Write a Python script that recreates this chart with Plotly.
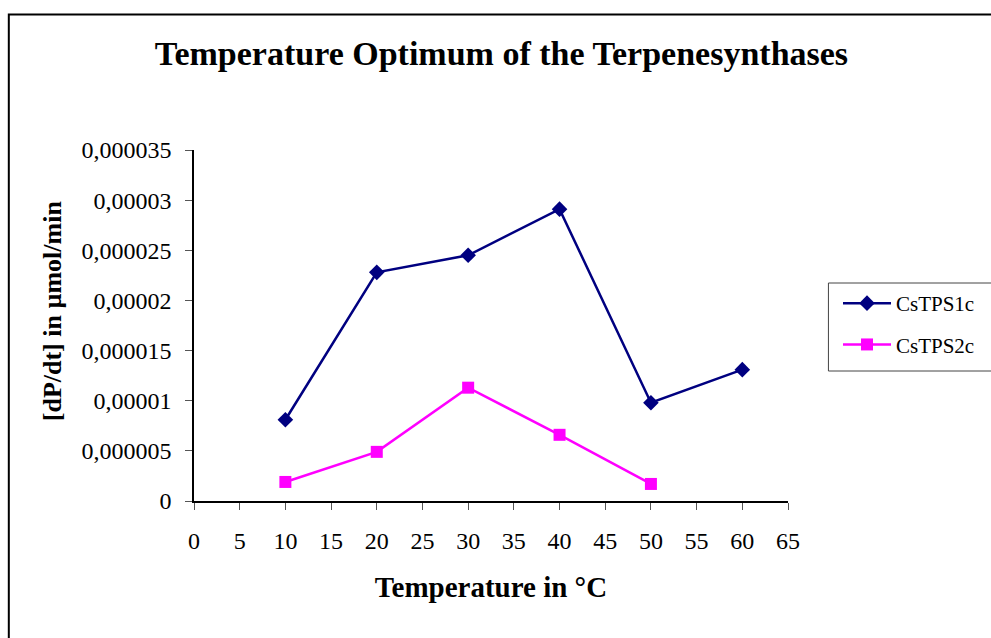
import plotly.graph_objects as go

# Reaction temperature (°C)
temps_1c = [10, 20, 30, 40, 50, 60]
temps_2c = [10, 20, 30, 40, 50]

# Product formation rate [dP/dt] in µmol/min
rate_cstps1c = [0.0000081, 0.0000228, 0.0000245, 0.0000291, 0.0000098, 0.0000131]
rate_cstps2c = [0.0000019, 0.0000049, 0.0000113, 0.0000066, 0.0000017]

SERIF = "Liberation Serif, Times New Roman, serif"

fig = go.Figure()
fig.add_trace(go.Scatter(
    x=temps_1c, y=rate_cstps1c, name="CsTPS1c", mode="lines+markers",
    legendgroup="a",
    line=dict(color="#000080", width=2.5),
    marker=dict(symbol="diamond", size=12, color="#000080"),
))
fig.add_trace(go.Scatter(
    x=temps_2c, y=rate_cstps2c, name="CsTPS2c", mode="lines+markers",
    legendgroup="b",
    line=dict(color="#FF00FF", width=2.5),
    marker=dict(symbol="square", size=12, color="#FF00FF"),
))

W, H = 991, 638
L, R, T, B = 194, 202, 150, 137
pw, ph = W - L - R, H - T - B


def px_x(x):
    return (x - L) / pw


def px_y(y):
    return (H - B - y) / ph


fig.update_layout(
    width=W, height=H,
    margin=dict(l=L, r=R, t=T, b=B),
    paper_bgcolor="white", plot_bgcolor="white",
    separators=",.",
    font=dict(family=SERIF, size=20, color="black"),
    title=dict(
        text="<b>Temperature Optimum of the Terpenesynthases</b>",
        font=dict(family=SERIF, size=34, color="black"),
        x=px_x(502), xref="paper", xanchor="center",
        y=1 - 53 / H, yref="container", yanchor="middle",
    ),
    xaxis=dict(
        range=[0, 65], dtick=5, tick0=0,
        showgrid=False, zeroline=False,
        showline=True, linecolor="black", linewidth=1.5,
        ticks="outside", ticklen=7, tickcolor="#555", tickwidth=1,
        ticklabelstandoff=10,
        tickfont=dict(family=SERIF, size=24),
        title=dict(text="<b>Temperature in °C</b>",
                   font=dict(family=SERIF, size=29), standoff=24),
    ),
    yaxis=dict(
        range=[0, 0.000035], dtick=0.000005, tick0=0,
        tickformat=".6~f",
        showgrid=False, zeroline=False,
        showline=True, linecolor="black", linewidth=1.5,
        ticks="outside", ticklen=7, tickcolor="#555", tickwidth=1,
        ticklabelstandoff=9,
        tickfont=dict(family=SERIF, size=24),
    ),
    legend=dict(
        x=px_x(838), y=px_y(283), xanchor="left", yanchor="top",
        bgcolor="rgba(0,0,0,0)", borderwidth=0,
        font=dict(family=SERIF, size=21),
        traceorder="grouped", tracegroupgap=11,
        itemwidth=48,
    ),
    annotations=[
        dict(text="<b>[dP/dt] in µmol/min</b>", textangle=-90,
             xref="paper", yref="paper", x=px_x(52), y=px_y(311),
             xanchor="center", yanchor="middle", showarrow=False,
             font=dict(family=SERIF, size=26, color="black")),
    ],
    shapes=[
        # outer frame
        dict(type="rect", xref="paper", yref="paper",
             x0=px_x(8.5), x1=px_x(1000), y0=px_y(650), y1=px_y(14.5),
             line=dict(color="black", width=2), fillcolor="rgba(0,0,0,0)",
             layer="below"),
        # legend frame
        dict(type="rect", xref="paper", yref="paper",
             x0=px_x(829.5), x1=px_x(1000), y0=px_y(371), y1=px_y(283),
             line=dict(color="#444", width=1), fillcolor="white",
             layer="below"),
    ],
)

fig.write_html("out.html")
